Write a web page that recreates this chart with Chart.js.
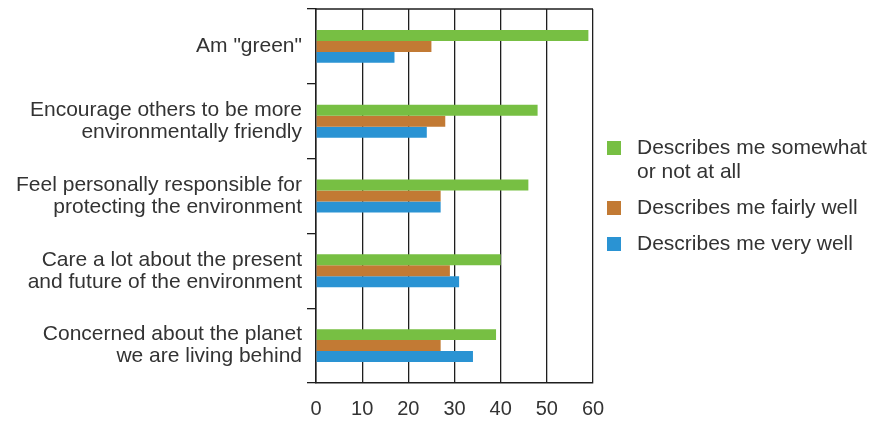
<!DOCTYPE html>
<html>
<head>
<meta charset="utf-8">
<script src="https://cdn.jsdelivr.net/npm/chart.js@4/dist/chart.umd.min.js"></script>
<style>
  html, body { margin: 0; padding: 0; background: #ffffff; }
  #wrap { width: 870px; height: 421px; }
</style>
</head>
<body>
<div id="wrap"><canvas id="chart" width="870" height="421"></canvas></div>
<script>
// Survey statements (one row each, top to bottom)
const categories = [
  'Am "green"',
  ['Encourage others to be more', 'environmentally friendly'],
  ['Feel personally responsible for', 'protecting the environment'],
  ['Care a lot about the present', 'and future of the environment'],
  ['Concerned about the planet', 'we are living behind']
];

// Legend names for the three answers
const seriesNames = [
  ['Describes me somewhat', 'or not at all'],
  ['Describes me fairly well'],
  ['Describes me very well']
];

// Percent of respondents per answer
const somewhatOrNotAtAll = [59, 48, 46, 40, 39];
const fairlyWell = [25, 28, 27, 29, 27];
const veryWell = [17, 24, 27, 31, 34];

// Value axis tick labels
const xTickValues = [0, 10, 20, 30, 40, 50, 60];

const FONT = '"Liberation Sans", Arial, Helvetica, sans-serif';
const TEXT = '#333333';
const LINE = '#1e1e1e';
const COLORS = ['#77bf43', '#c27a34', '#2a93d3'];

// Legend to the right of the plot, items can span several lines
const sideLegend = {
  id: 'sideLegend',
  afterDraw(chart) {
    const ctx = chart.ctx;
    const area = chart.chartArea;
    const lineStep = 24;
    const itemStep = 36;
    const box = 14;
    const x0 = area.right + 14;
    const tx = x0 + 30;
    const sets = chart.data.datasets;
    // total height of the block (centre to centre)
    let span = 0;
    sets.forEach((ds, i) => {
      span += (ds.legendLines.length - 1) * lineStep;
      if (i > 0) span += itemStep;
    });
    let y = (area.top + area.bottom) / 2 - span / 2;
    ctx.save();
    ctx.font = '21px ' + FONT;
    ctx.textBaseline = 'middle';
    ctx.textAlign = 'left';
    sets.forEach((ds, i) => {
      if (i > 0) y += itemStep;
      ctx.fillStyle = ds.backgroundColor;
      ctx.fillRect(x0, y - box / 2, box, box);
      ctx.fillStyle = TEXT;
      ds.legendLines.forEach((t, k) => {
        ctx.fillText(t, tx, y + k * lineStep);
      });
      y += (ds.legendLines.length - 1) * lineStep;
    });
    ctx.restore();
  }
};

// Closing line along the top of the plot frame
const topFrame = {
  id: 'topFrame',
  afterDatasetsDraw(chart) {
    const ctx = chart.ctx;
    const a = chart.chartArea;
    ctx.save();
    ctx.strokeStyle = LINE;
    ctx.lineWidth = 1.3;
    ctx.beginPath();
    ctx.moveTo(a.left, a.top);
    ctx.lineTo(a.right, a.top);
    ctx.stroke();
    ctx.restore();
  }
};

const seriesValues = [somewhatOrNotAtAll, fairlyWell, veryWell];

new Chart(document.getElementById('chart'), {
  type: 'bar',
  data: {
    labels: categories,
    datasets: seriesValues.map((vals, i) => ({
      label: seriesNames[i].join(' '),
      legendLines: seriesNames[i],
      data: vals,
      backgroundColor: COLORS[i],
      borderWidth: 0,
      categoryPercentage: 0.44,
      barPercentage: 1.0
    }))
  },
  options: {
    indexAxis: 'y',
    responsive: false,
    animation: false,
    layout: { padding: { top: 9, right: 277, bottom: 0, left: 0 } },
    plugins: {
      legend: { display: false },
      tooltip: { enabled: false }
    },
    scales: {
      x: {
        min: 0,
        max: 60,
        afterBuildTicks(scale) {
          scale.ticks = xTickValues.map(v => ({ value: v }));
        },
        // room for one line of labels below the axis
        afterFit(scale) { scale.height = 38; },
        grid: {
          color: LINE,
          lineWidth: 1.3,
          drawTicks: false
        },
        border: { color: LINE, width: 1.5 },
        ticks: {
          color: TEXT,
          padding: 14,
          font: { family: FONT, size: 20, lineHeight: 1.2 }
        }
      },
      y: {
        afterFit(scale) {
          scale.width = 316;
          // labels sit mid-row, so no extra room is needed above or below
          scale.paddingTop = 0;
          scale.paddingBottom = 0;
        },
        grid: {
          offset: true,
          drawOnChartArea: false,
          drawTicks: true,
          tickLength: 9,
          color: LINE,
          lineWidth: 1.3
        },
        border: { color: LINE, width: 1.5 },
        ticks: {
          color: TEXT,
          padding: 5,
          font: { family: FONT, size: 21, lineHeight: 1.05 }
        }
      }
    }
  },
  plugins: [sideLegend, topFrame]
});
</script>
</body>
</html>
